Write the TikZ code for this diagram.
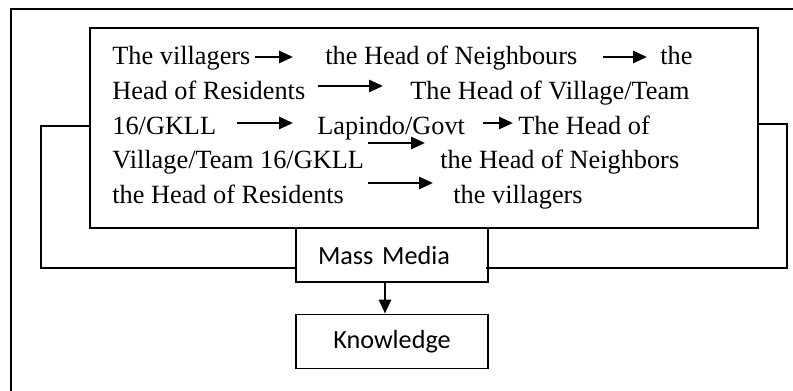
\documentclass[tikz,border=0pt]{standalone}
\usepackage{fontspec}
\setmainfont{Liberation Serif}
\newfontfamily\mediafont{Carlito}
\usetikzlibrary{arrows.meta}

\tikzset{
  frame/.style={line width=0.9pt},
  txt/.style={anchor=base west, inner sep=0pt, font=\fontsize{13.15}{16}\selectfont},
  flow/.style={line width=1.4pt, -{Triangle[length=7pt,width=6pt]}},
  sbox/.style={draw, frame, minimum width=96pt, minimum height=27pt, inner ysep=0pt,
    text width=74pt, inner xsep=11pt, font=\mediafont\fontsize{13.1}{15}\selectfont},
}

\begin{document}
\begin{tikzpicture}[x=0.5pt,y=-0.5pt]
  \useasboundingbox (0,0) rectangle (793,391);
  % outer frame, cut by the page
  \draw[frame] (793,9) -- (11,9) -- (11,391);

  \node[draw, frame, minimum width=334pt, minimum height=100pt] (chain) at (424,128) {};
  \node[sbox, align=left] (media) at (392,255) {Mass Media};
  \node[sbox, align=center] (know) at (392,341.5) {Knowledge};

  % the text of the chain
  \node[txt] (v1) at (112,64) {The villagers};
  \node[txt] (n1) at (325,64) {the Head of Neighbours};
  \node[txt] (r1) at (660,64) {the};
  \node[txt] (r2) at (112,99) {Head of Residents};
  \node[txt] (h2) at (410,99) {The Head of Village/Team};
  \node[txt] (g3) at (112,134) {16/GKLL};
  \node[txt] (l3) at (317,134) {Lapindo/Govt};
  \node[txt] (h3) at (518,134) {The Head of};
  \node[txt] (h4) at (112,168) {Village/Team 16/GKLL};
  \node[txt] (n4) at (440,168) {the Head of Neighbors};
  \node[txt] (r5) at (112,203) {the Head of Residents};
  \node[txt] (v5) at (453,203) {the villagers};

  % arrows inside the chain
  \foreach \n/\xa/\xb/\y in {1/255/293/57, 2/603/647/57, 3/318/383/86,
      4/237/293/123, 5/483/513/123, 6/368/425/143, 7/368/433/183} {
    \coordinate (a\n s) at (\xa,\y);
    \coordinate (a\n e) at (\xb,\y);
    \draw[flow] (a\n s) -- (a\n e);
  }

  % feedback lines
  \draw[frame] ([yshift=1pt]chain.west) -- ++(-48,0) |- ([yshift=-6.5pt]media.west);
  \draw[frame] ([yshift=2pt]chain.east) -- ++(28,0) |- ([xshift=-1.5pt,yshift=-6.5pt]media.east);

  \draw[flow] ([xshift=-3.5pt]media.south) -- ([xshift=-3.5pt]know.north);
\end{tikzpicture}
\end{document}
